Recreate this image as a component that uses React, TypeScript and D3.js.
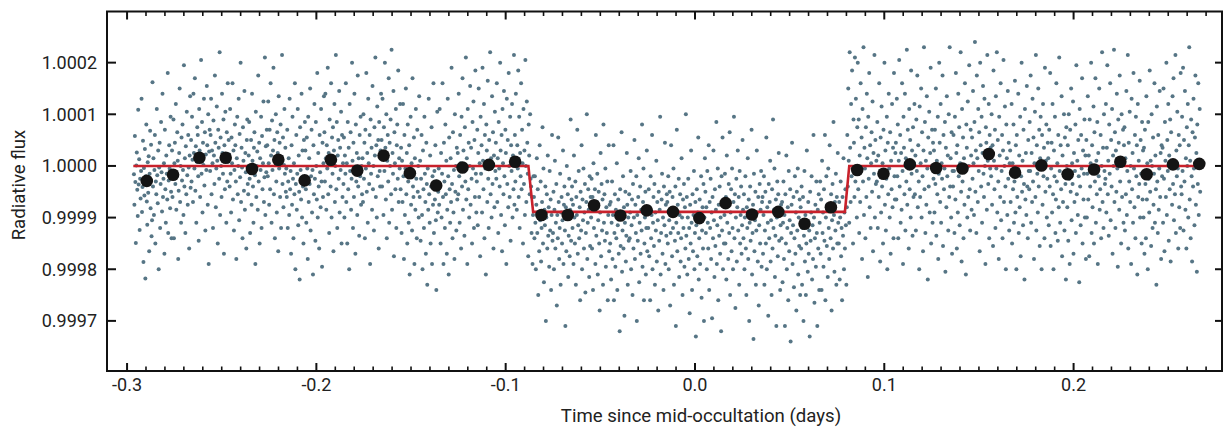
import React from 'react';
import * as d3 from 'd3';

// binned means (black dots), flux offset in ppm
const binTime = [-0.2896, -0.2757, -0.2618, -0.2479, -0.234, -0.2201, -0.2062, -0.1923, -0.1784, -0.1645,
  -0.1506, -0.1367, -0.1228, -0.1089, -0.095, -0.0811, -0.0672, -0.0533, -0.0394, -0.0255,
  -0.0116, 0.0023, 0.0162, 0.0301, 0.044, 0.0579, 0.0718, 0.0857, 0.0996, 0.1135,
  0.1274, 0.1413, 0.1552, 0.1691, 0.183, 0.1969, 0.2108, 0.2247, 0.2386, 0.2525, 0.2664];
const binPpm = [-29, -17, 16, 16, -6, 12, -28, 12, -9, 20,
  -14, -38, -3, 2, 8, -95, -95, -76, -96, -86,
  -89, -101, -72, -94, -89, -112, -80, -8, -15, 3,
  -4, -5, 23, -13, 1, -16, -7, 8, -16, 3, 4];

// occultation model (red line)
const modelTime = [-0.2967, -0.088, -0.0855, 0.0792, 0.0815, 0.269];
const modelPpm = [0, 0, -89, -89, 0, 0];

// raw measurements, ppm, in time order; each string is one equal slice of time
const scatterStart = -0.2965;
const scatterEnd = 0.267;
const fluxChunks = [
  '-16 -75 58 -31 -149 1 26 -46 -97 109 -36 13 -124 -25 -63 -10 130 -89 -41 49 -186 -4 -57 33 -218 -20 80 -69 -114 7 -52 19 -165 -15 68 -82 41 -136 -105 162',
  '-40 15 -95 -8 60 -150 -30 -55 110 -18 -72 30 -200 -3 45 -120 -35 85 -12 -88 140 -60 -25 5 -170 70 -45 -110 20 -15 -65 180 -130 -28 40 -5 -82 95 -50 -140',
  '30 -60 -12 90 -140 5 45 -35 120 -85 -20 65 10 -180 -48 25 150 -70 0 -110 55 -28 80 -8 -95 195 -40 15 -130 38 -55 105 -18 -75 60 -3 -160 20 135 -42',
  '50 -30 95 12 -70 140 25 -5 170 -48 38 -110 8 75 60 -20 -145 110 30 -60 18 205 -15 85 -90 45 2 130 -38 65 -125 22 -8 155 40 -75 100 -190 28 70',
  '-10 60 130 -55 30 5 -120 88 20 -35 175 45 -80 -5 115 10 -150 70 35 -25 220 -95 55 0 -60 140 25 -15 90 -170 40 -45 105 15 -110 65 -30 160 8 50',
  '22 -40 110 -15 -90 55 5 160 -65 30 -125 -8 80 40 -30 -180 15 95 -55 0 130 -105 62 -22 200 -70 35 -3 -140 75 10 -48 145 -85 25 -12 -160 50 90 -35',
  '-55 20 85 -25 -130 -5 50 -75 140 10 -40 -110 35 65 -18 -190 105 -60 0 28 -85 175 -30 45 -150 15 -8 95 -120 58 -45 5 125 -70 -22 210 -95 38 -12 70',
  '40 -20 125 5 -75 70 -45 160 20 -110 88 -8 30 190 -55 50 -140 12 100 -30 -90 65 25 -165 135 -5 45 -60 80 -120 18 215 -35 55 -80 2 110 -15 35 -50',
  '-5 -60 70 -120 -30 15 -95 130 -45 -10 -170 40 -75 95 -25 -140 5 -55 160 -200 -35 60 -85 -15 110 -115 20 -50 -220 75 -8 -65 140 -100 30 -40 -150 50 -22 85',
  '30 -45 -110 55 -5 -180 95 -70 15 -35 150 -125 -20 70 -90 -8 -210 40 -55 120 -25 -145 85 0 -65 180 -100 25 -40 -160 60 -12 -80 110 -30 -195 45 -60 5 135',
  '65 -30 140 15 -85 40 -5 190 -55 25 -130 90 10 -40 160 -100 55 -15 75 -165 30 120 -70 0 215 -45 85 -120 20 50 -25 145 -90 35 -8 105 -150 60 -60 5',
  '-35 55 -100 20 -15 160 -70 5 -150 85 -45 35 -200 120 -10 65 -85 -25 200 10 -120 45 -60 140 -5 -170 80 -30 25 -95 175 -40 15 -135 60 -20 95 -75 0 -55',
  '15 -70 100 -25 45 -140 70 -5 180 -50 25 -110 130 5 -35 60 -190 90 -15 35 -85 155 -45 0 -125 75 20 210 -60 40 -100 115 -20 50 -160 85 -10 -40 30 140',
  '50 -40 130 20 -95 75 -10 200 35 -65 100 -140 10 60 -30 170 -110 45 0 90 -55 225 -85 25 -15 145 -175 65 5 -45 110 -120 40 80 -25 185 -70 15 -5 120',
  '-45 35 -130 10 -70 120 -20 -180 60 -95 -5 150 -55 25 -150 80 -30 -110 40 -210 -15 95 -75 5 -125 170 -40 -60 55 -190 15 -85 110 -25 -140 70 -50 0 -100 135',
  '-60 10 -145 -25 60 -95 -200 30 -45 -120 95 -15 -70 -170 45 -35 -230 -5 -85 130 -55 -110 20 -150 -40 75 -190 -20 -75 160 -130 -10 -65 40 -105 -240 -30 105 -90 -50',
  '-5 -75 110 -40 -150 25 -100 -15 160 -60 -190 45 -30 -120 80 -55 10 -170 -85 130 -20 -210 55 -45 -110 15 -70 190 -35 -140 65 -90 -8 -180 100 -50 0 -125 35 -65',
  '25 -55 140 -20 -110 60 5 -160 95 -40 170 -85 30 -10 -135 75 -30 210 -65 15 -190 110 -45 45 -100 0 155 -75 35 -25 -150 85 -5 125 -120 50 -60 185 -15 -90',
  '-30 70 -115 25 150 -60 5 -175 95 -15 40 -90 190 10 -45 120 -140 60 -5 -210 80 30 -70 165 -25 -120 50 0 220 -55 15 -100 135 -35 65 -160 20 -80 105 -10',
  '45 -25 160 -70 15 -130 85 -5 -40 200 30 -95 60 -165 110 5 -55 145 -20 -115 70 25 -190 130 -35 50 -80 180 0 -60 95 -145 40 -10 120 -100 20 -45 215 -75',
  '60 -30 140 15 -85 40 -5 185 -60 95 -120 25 -20 160 -45 70 5 -150 110 -35 30 -95 205 0 -70 125 45 -15 -175 80 20 -55 100 -25 -40 -130 -60 -190 -95 -20',
  '-60 -140 -20 -110 -200 -75 15 -130 -45 -250 -90 -165 40 -105 -30 -185 -120 -70 75 -150 -5 -225 -85 -115 -40 -300 -100 -55 -160 20 -135 -80 -195 -10 -125 -65 -240 -95 60 -145',
  '-130 -50 -200 -85 10 -160 -110 -35 -270 -95 -140 55 -70 -180 -120 -15 -230 -90 -60 -150 -105 30 -190 -75 -40 -125 -310 -80 -165 0 -100 -55 -215 -135 -25 -175 -85 90 -145 -65',
  '-40 -120 -75 -190 20 -100 -150 -30 -230 -60 -95 70 -170 -115 -10 -140 -80 -260 -50 -125 40 -200 -65 -105 -5 -160 -90 -35 -245 -130 -70 100 -180 -110 -45 -85 -215 -20 -155 -60',
  '-100 -25 -160 -60 -240 5 -120 -85 -45 -190 60 -135 -70 -15 -210 -105 -50 -150 -280 -90 25 -175 -35 -125 -65 -230 80 -110 -55 -145 -5 -195 -80 -130 -30 -260 -95 40 -165 -75',
  '-150 -70 -220 -110 -30 -180 -95 40 -260 -130 -55 -195 -85 -140 5 -240 -115 -65 -170 -100 -320 -45 -155 -90 65 -205 -125 -20 -160 -80 -290 -110 -50 -185 -135 25 -75 -230 -100 -145',
  '-55 -140 -90 -10 -200 -115 -65 -250 -35 -160 -100 50 -180 -75 -130 -20 -300 -95 -145 -60 15 -225 -110 -40 -170 -85 -125 80 -195 -70 -5 -260 -150 -100 -50 -210 -120 30 -165 -80',
  '-120 -45 -175 -80 -260 -20 -140 -95 60 -200 -110 -60 -155 -35 -230 -90 -125 10 -185 -70 -105 -280 -50 -145 -85 95 -210 -130 -65 -15 -170 -100 -240 -40 -115 45 -190 -75 -135 -55',
  '-70 -150 -20 -200 -105 -50 -270 -130 40 -90 -175 -60 -120 -5 -230 -85 -145 -40 -310 -110 70 -165 -75 -130 -25 -215 -95 -55 -185 -140 15 -100 -250 -65 -120 -35 -195 -80 -160 100',
  '-135 -60 -210 -100 -25 -180 -120 -285 -75 -150 30 -110 -240 -55 -165 -95 -10 -200 -130 -70 -330 -115 -45 -175 -90 55 -220 -140 -65 -190 -105 -20 -255 -125 -80 -160 -35 -300 -100 15',
  '-50 -130 -80 -200 -10 -110 -160 40 -240 -70 -120 -25 -180 -90 -295 -60 -140 30 -105 -215 -45 -155 -85 85 -190 -115 -5 -260 -75 -135 -40 -170 -100 -320 -20 -125 55 -200 -65 -150',
  '-95 -15 -150 -60 -220 20 -110 -75 -180 -35 -130 65 -250 -90 -45 -165 -5 -120 -200 -70 95 -140 -55 -275 -100 -25 -185 -80 30 -125 -60 -230 -10 -150 -95 -40 -170 -115 50 -85',
  '-140 -55 -200 -100 -20 -160 -250 -80 -120 15 -180 -65 -300 -110 -40 -145 -95 70 -210 -130 -75 -335 -15 -165 -105 -50 -230 -125 30 -90 -185 -60 -270 -115 -35 -150 -85 -10 -195 -70',
  '-60 -170 -95 -20 -230 -125 -50 -150 55 -200 -80 -110 -290 -35 -140 -70 10 -185 -105 -250 -45 -160 90 -120 -85 -5 -215 -135 -65 -310 -100 -30 -175 -55 25 -145 -90 -240 -115 -75',
  '-140 -70 -225 -110 -30 -180 -95 -310 -55 -150 20 -200 -120 -80 -260 -10 -165 -105 -45 -340 -130 -75 45 -190 -115 -60 -235 -140 -20 -170 -90 -280 -50 -125 -5 -210 -100 -155 -65 -250',
  '-80 -160 -40 -230 -120 -60 -300 -135 -10 -185 -95 -250 -150 30 -110 -205 -70 -170 -125 -330 -50 -145 -90 -20 -220 -115 -180 60 -100 -265 -140 -75 -195 -30 -130 -310 -85 -160 -55 -240',
  '-110 -30 -170 -65 -240 10 -130 -90 -195 -45 -145 60 -260 -100 -20 -155 -75 -215 -5 -120 -180 40 -85 -140 -55 -280 -105 -35 -160 85 -95 -205 -70 -125 -15 -230 -60 -150 25 -110',
  '-150 -70 -220 -100 -30 -175 -120 -260 -60 -135 15 -200 -90 -160 -45 -115 -230 -80 60 -40 150 10 -110 220 35 -70 120 -20 185 -5 -150 90 45 -60 210 -30 130 0 -100 75',
  '200 -45 90 -130 20 -70 160 -10 55 -180 110 -30 230 -95 35 -5 -140 75 -60 140 15 -215 95 -25 180 -80 40 -120 5 65 -50 125 -165 25 -15 215 -100 50 -35 10',
  '-30 85 -120 20 -60 160 -15 -185 55 -90 115 -40 5 -150 70 -10 200 -75 30 -125 -25 95 -200 45 -55 140 -5 -100 65 -170 10 -45 120 -80 35 -140 180 -20 -65 25',
  '45 -65 130 -20 80 -140 10 205 -40 60 -110 25 -85 160 -10 -190 95 35 -55 140 -125 15 -30 225 -75 70 0 -160 110 -45 50 -100 185 -15 30 -135 75 -60 5 120',
  '-55 20 -125 90 -10 175 -80 40 -30 -200 115 -60 5 150 -100 65 -20 -165 30 230 -45 85 -130 10 -75 135 -5 -220 55 -40 105 -90 25 190 -150 0 70 -110 45 -25',
  '30 -90 70 -35 150 -135 10 -55 95 -180 -15 200 45 -70 120 -110 5 -25 175 -155 60 -45 -5 85 -205 35 -80 135 -20 20 -125 100 -60 230 -40 15 -100 65 -170 -10',
  '-40 60 -10 -130 95 -65 180 25 -160 40 -90 140 -20 75 -115 5 220 -50 -185 110 -30 55 -140 15 -75 160 -5 -210 80 35 -100 125 -60 0 195 -45 -125 70 20 -85',
  '55 -25 145 5 -95 85 240 -50 30 -130 175 15 -70 110 -10 65 -165 200 40 -40 95 -110 25 155 -15 -60 130 0 -190 75 45 -85 215 10 -35 120 -140 60 -5 35',
  '-20 100 -75 40 -155 185 10 -45 70 -120 135 -5 220 -90 50 -30 -180 95 20 -60 160 -105 -10 60 -140 30 205 -70 0 115 -40 -200 80 15 -95 145 -25 45 -125 5',
  '30 -70 -15 120 -150 5 -45 80 -110 -30 165 -90 40 -200 60 -60 -5 140 -130 20 -80 95 -175 -20 200 -50 10 -115 70 -35 -220 110 -65 25 -95 155 -40 -140 50 -10',
  '-45 85 -10 175 -110 25 -70 130 -30 55 -180 5 105 -60 215 -125 40 -15 -90 150 -40 70 -155 15 95 -5 -200 60 -75 120 -20 35 -140 190 -50 10 80 -100 -25 45',
  '15 -115 70 -40 180 -155 -5 45 -90 120 -55 -200 30 -20 95 -130 -65 160 -30 5 -145 60 -80 210 -10 -110 40 -45 135 -175 20 -70 -15 100 -125 55 -35 -220 75 0',
  '-80 40 -145 100 -25 -190 70 -50 150 -105 5 -35 125 -170 25 -70 -10 80 -130 195 -55 10 -95 50 -20 -225 110 -40 -115 60 -5 170 -150 30 -65 -15 90 -100 20 -180',
  '50 -100 -15 135 -65 20 -175 90 -40 5 200 -130 40 -80 -5 115 -150 65 -30 170 -110 10 -55 85 -190 25 -20 150 -85 -45 60 -140 0 220 -70 35 -120 100 -10 -35',
  '-25 120 -90 35 195 -55 10 -135 80 -15 160 -105 50 -40 110 -170 20 0 225 -70 65 -120 30 -50 140 -5 -195 90 45 -85 175 -30 15 -150 100 -60 5 70 -110 40',
  '75 -125 15 -55 145 -95 -10 215 -160 45 -30 105 -70 0 -190 130 -45 25 -110 180 -5 -80 60 -140 95 -20 40 -210 120 -60 10 -35 165 -100 50 -15 -150 85 -65 30',
  '-100 35 -170 70 -35 -140 135 -65 5 -200 85 -25 -90 185 -50 10 -155 100 0 -120 55 -75 -15 160 -110 20 -45 -230 115 -30 -130 60 -85 -5 145 -60 25 -180 40 -20',
  '35 -110 150 -25 -165 85 10 -60 200 -95 50 -10 120 -145 20 -45 90 -185 65 0 -75 135 -35 170 -105 5 -55 215 -130 30 -20 105 -5 -160 60 -80 40 -120 180 -40',
  '-55 95 -10 190 -125 50 -30 145 -85 15 -160 75 0 120 -100 40 230 -65 10 -140 90 -20 -185 65 -40 130 -5 -115 55 175 -75 25 -205 80 -35 160 -95 5 110 -50',
];

const xTicks = [-0.3, -0.2, -0.1, 0.0, 0.1, 0.2];
const yTicks = [0.9997, 0.9998, 0.9999, 1.0, 1.0001, 1.0002];

const W = 1227;
const H = 430;
const left = 107, right = 1222, top = 11.5, bottom = 371;
const font = 'Roboto, "DejaVu Sans", sans-serif';

export default function App() {
  const x = d3.scaleLinear().domain([-0.3106, 0.2784]).range([left, right]);
  const y = d3.scaleLinear().domain([-397, 299]).range([bottom, top]);

  const chunkW = (scatterEnd - scatterStart) / fluxChunks.length;
  const points: { t: number; v: number }[] = [];
  fluxChunks.forEach((s, k) => {
    const vals = s.trim().split(/\s+/).map(Number);
    vals.forEach((v, j) => {
      points.push({ t: scatterStart + chunkW * (k + (j + 0.5) / vals.length), v });
    });
  });

  const model = d3.line<number>()
    .x((d, i) => x(modelTime[i]))
    .y(d => y(d));

  const minorX = d3.range(-31, 28).filter(i => i % 10 !== 0).map(i => i / 100)
    .filter(t => x(t) > left + 2 && x(t) < right - 2);
  const toPpm = (f: number) => Math.round((f - 1) * 1e6);

  return (
    <svg width={W} height={H} style={{ position: 'absolute', left: 0, top: 0, background: '#fff' }}>
      <g>
        {points.map((p, i) => (
          <circle key={i} cx={x(p.t)} cy={y(p.v)} r={2} fill="#567585" />
        ))}
      </g>
      <path d={model(modelPpm) || ''} fill="none" stroke="#c8212b" strokeWidth={2.6} />
      <g>
        {binTime.map((t, i) => (
          <circle key={i} cx={x(t)} cy={y(binPpm[i])} r={6.3} fill="#141414" />
        ))}
      </g>

      {/* frame */}
      <rect x={left} y={top} width={right - left} height={bottom - top} fill="none" stroke="#111" strokeWidth={2} />

      {/* x ticks, bottom and top, pointing inward */}
      {xTicks.map(t => (
        <g key={'xt' + t}>
          <line x1={x(t)} x2={x(t)} y1={bottom} y2={bottom - 8} stroke="#111" strokeWidth={2} />
          <line x1={x(t)} x2={x(t)} y1={top} y2={top + 8} stroke="#111" strokeWidth={2} />
          <text x={x(t)} y={391} textAnchor="middle" fontFamily={font} fontSize={18} fill="#222">
            {t.toFixed(1)}
          </text>
        </g>
      ))}
      {minorX.map(t => (
        <g key={'mx' + t}>
          <line x1={x(t)} x2={x(t)} y1={bottom} y2={bottom - 4.5} stroke="#111" strokeWidth={1.6} />
          <line x1={x(t)} x2={x(t)} y1={top} y2={top + 4.5} stroke="#111" strokeWidth={1.6} />
        </g>
      ))}

      {/* y ticks, left and right */}
      {yTicks.map(f => {
        const yy = y(toPpm(f));
        return (
          <g key={'yt' + f}>
            <line x1={left} x2={left + 9} y1={yy} y2={yy} stroke="#111" strokeWidth={2} />
            <line x1={right} x2={right - 7} y1={yy} y2={yy} stroke="#111" strokeWidth={2} />
            <text x={97} y={yy} dy="0.35em" textAnchor="end" fontFamily={font} fontSize={18} fill="#222">
              {f.toFixed(4)}
            </text>
          </g>
        );
      })}

      <text x={701} y={422} textAnchor="middle" fontFamily={font} fontSize={18.6} fill="#222">
        Time since mid-occultation (days)
      </text>
      <text transform="translate(25,185) rotate(-90)" textAnchor="middle" fontFamily={font} fontSize={18.6} fill="#222">
        Radiative flux
      </text>
    </svg>
  );
}
